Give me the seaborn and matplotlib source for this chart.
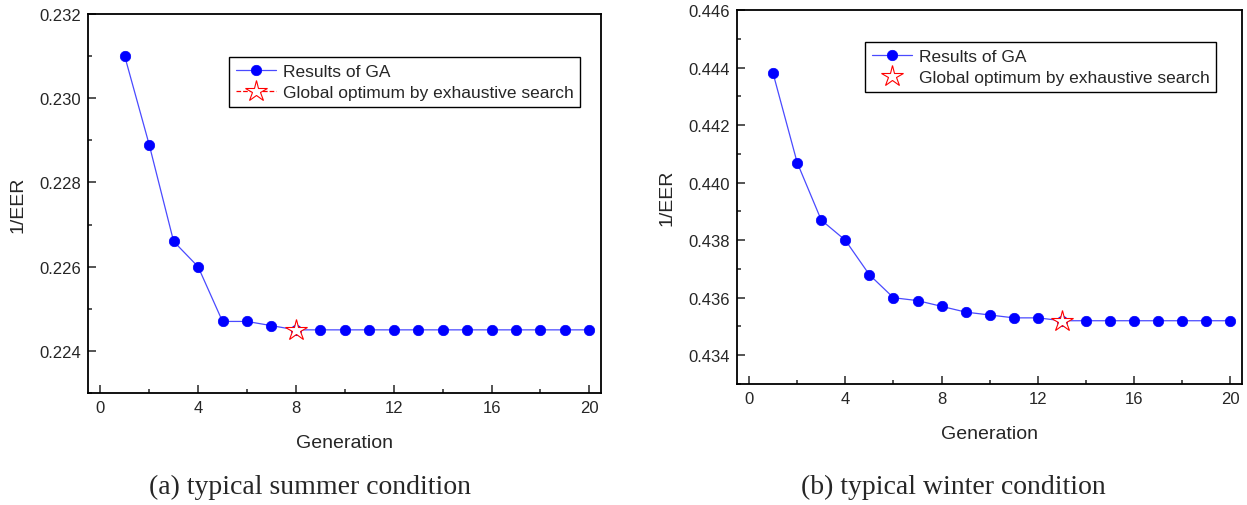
import numpy as np
import pandas as pd
import matplotlib
matplotlib.use("Agg")
import matplotlib.pyplot as plt
import seaborn as sns
from matplotlib.ticker import MultipleLocator, FormatStrFormatter

# datos
generacion = list(range(1, 21))
ga_verano = [0.2310, 0.2289, 0.2266, 0.2260, 0.2247, 0.2247, 0.2246, 0.2245, 0.2245, 0.2245,
             0.2245, 0.2245, 0.2245, 0.2245, 0.2245, 0.2245, 0.2245, 0.2245, 0.2245, 0.2245]
ga_invierno = [0.4438, 0.4407, 0.4387, 0.4380, 0.4368, 0.4360, 0.4359, 0.4357, 0.4355, 0.4354,
               0.4353, 0.4353, 0.4352, 0.4352, 0.4352, 0.4352, 0.4352, 0.4352, 0.4352, 0.4352]
opt_verano_x = [8]
opt_verano_y = [0.2245]
opt_invierno_x = [13]
opt_invierno_y = [0.4352]

sns.set_style("ticks")
plt.rcParams["font.family"] = ["Liberation Sans", "DejaVu Sans"]

fig = plt.figure(figsize=(12.47, 5.06), dpi=100)
ax1 = fig.add_axes([0.0706, 0.2213, 0.4114, 0.749])
ax2 = fig.add_axes([0.5910, 0.2391, 0.4050, 0.739])


def panel(ax, y, ox, oy, ylim, star_ls, leg_xy):
    sns.lineplot(x=generacion, y=y, ax=ax, color="#4a4aff", linewidth=0.9,
                 marker="o", markersize=7.5, markerfacecolor="blue",
                 markeredgecolor="blue", markeredgewidth=0.5,
                 label="Results of GA", zorder=2)
    sns.lineplot(x=ox, y=oy, ax=ax, color="red", linestyle=star_ls, linewidth=0.9,
                 marker="*", markersize=16, markerfacecolor="white",
                 markeredgecolor="red", markeredgewidth=0.8,
                 label="Global optimum by exhaustive search", zorder=3)
    ax.set_xlim(-0.5, 20.48)
    ax.set_ylim(*ylim)
    ax.xaxis.set_major_locator(MultipleLocator(4))
    ax.xaxis.set_minor_locator(MultipleLocator(2))
    ax.yaxis.set_major_locator(MultipleLocator(0.002))
    ax.yaxis.set_minor_locator(MultipleLocator(0.001))
    ax.yaxis.set_major_formatter(FormatStrFormatter("%.3f"))
    ax.tick_params(which="major", direction="in", length=6, width=1.1,
                   labelsize=12, pad=5, top=False, right=False)
    ax.tick_params(which="minor", direction="in", length=3, width=1.1,
                   top=False, right=False)
    for s in ax.spines.values():
        s.set_linewidth(1.3)
        s.set_color("black")
    ax.set_xlabel("Generation", fontsize=14, labelpad=14)
    ax.set_ylabel("1/EER", fontsize=14, labelpad=9)
    leg = ax.legend(loc="upper right", bbox_to_anchor=leg_xy, fontsize=12.5,
                    frameon=True, fancybox=False, edgecolor="black",
                    borderpad=0.38, labelspacing=0.35, handlelength=2.3,
                    handletextpad=0.4, borderaxespad=0)
    leg.get_frame().set_linewidth(1.0)
    leg.get_frame().set_alpha(1)


panel(ax1, ga_verano, opt_verano_x, opt_verano_y, (0.223, 0.232), "--", (0.959, 0.8865))
panel(ax2, ga_invierno, opt_invierno_x, opt_invierno_y, (0.433, 0.446), "none", (0.9485, 0.914))

fig.text(310 / 1247, 1 - 487 / 506, "(a) typical summer condition", ha="center", va="center",
         fontsize=20, family="Liberation Serif")
fig.text(953 / 1247, 1 - 487 / 506, "(b) typical winter condition", ha="center", va="center",
         fontsize=20, family="Liberation Serif")

fig.savefig("out.png", dpi=100)
